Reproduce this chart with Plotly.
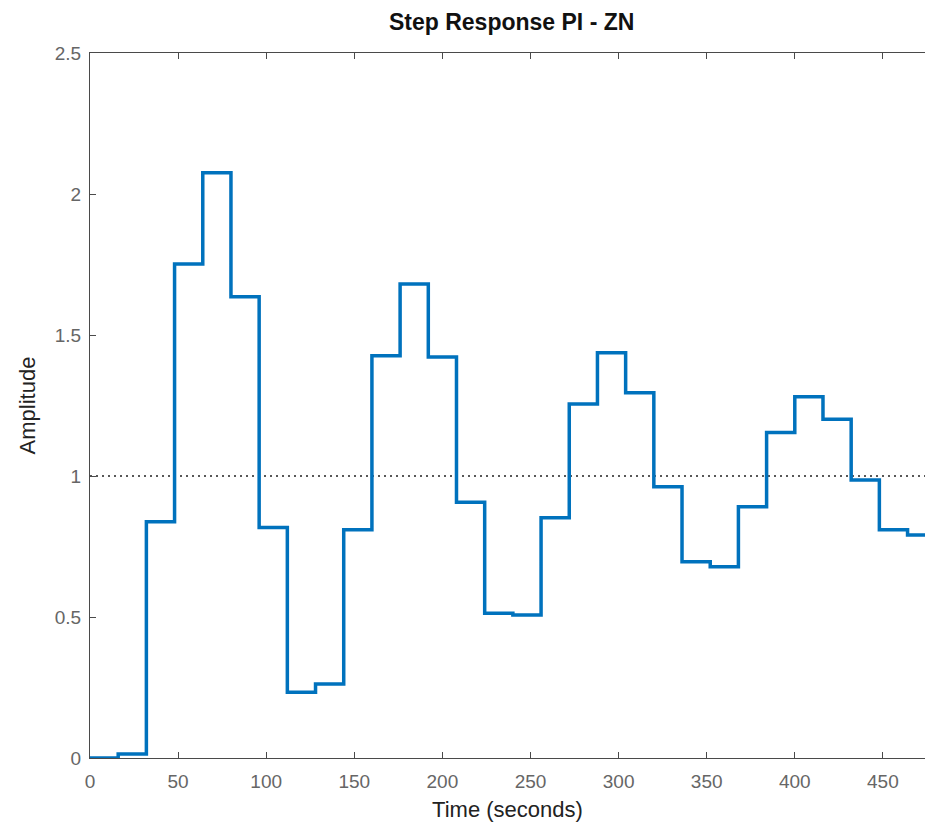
import numpy as np
import plotly.graph_objects as go

# ---- data ----
sample_time = 16  # seconds per step (discrete-time response)
amplitude = [0.0, 0.014, 0.838, 1.752, 2.075, 1.636, 0.817, 0.233, 0.262, 0.809,
             1.426, 1.681, 1.422, 0.907, 0.513, 0.507, 0.852, 1.255, 1.437, 1.295,
             0.962, 0.696, 0.678, 0.891, 1.154, 1.281, 1.201, 0.986, 0.809, 0.791]
final_value = 1.0
x_ticks = [0, 50, 100, 150, 200, 250, 300, 350, 400, 450]
y_ticks = [0, 0.5, 1, 1.5, 2, 2.5]
y_tick_labels = ["0", "0.5", "1", "1.5", "2", "2.5"]

# step held until the next sample; extend last sample by one period
t = list(np.arange(len(amplitude) + 1) * sample_time)
y = amplitude + [amplitude[-1]]

FONT = "Liberation Sans, Arial, Helvetica, sans-serif"
AXIS_COLOR = "#4a4a4a"

fig = go.Figure()
fig.add_trace(go.Scatter(
    x=[0, t[-1]], y=[final_value, final_value], mode="lines",
    line=dict(color="#222222", width=1.5, dash="2px,4px"),
    hoverinfo="skip", showlegend=False))
fig.add_trace(go.Scatter(
    x=t, y=y, mode="lines", line_shape="hv",
    line=dict(color="#0072BD", width=3.5), showlegend=False))

fig.update_layout(
    width=925, height=830,
    margin=dict(l=90, r=0, t=53, b=72),
    paper_bgcolor="white", plot_bgcolor="white",
    font=dict(family=FONT, color="#555555"),
    title=dict(text="<b>Step Response PI - ZN</b>",
               font=dict(family=FONT, size=23, color="#111111"),
               x=0.505, xref="paper", xanchor="center",
               y=1 - 22 / 830, yref="container", yanchor="middle"),
    xaxis=dict(range=[0, 473.9], tickvals=x_ticks,
               showline=True, linecolor=AXIS_COLOR, linewidth=1.2,
               mirror="ticks", ticks="inside", ticklen=6, tickcolor=AXIS_COLOR,
               showgrid=False, zeroline=False, ticklabelstandoff=6,
               tickfont=dict(size=19, color="#666666"),
               title=dict(text="Time (seconds)", standoff=10,
                          font=dict(size=22, color="#222222"))),
    yaxis=dict(range=[0, 2.5], tickvals=y_ticks, ticktext=y_tick_labels,
               showline=True, linecolor=AXIS_COLOR, linewidth=1.2,
               mirror=False, ticks="inside", ticklen=6, tickcolor=AXIS_COLOR,
               showgrid=False, zeroline=False, ticklabelstandoff=4,
               tickfont=dict(size=19, color="#666666"),
               title=dict(text="Amplitude", standoff=12,
                          font=dict(size=22, color="#222222"))),
)

fig.write_html("out.html")
